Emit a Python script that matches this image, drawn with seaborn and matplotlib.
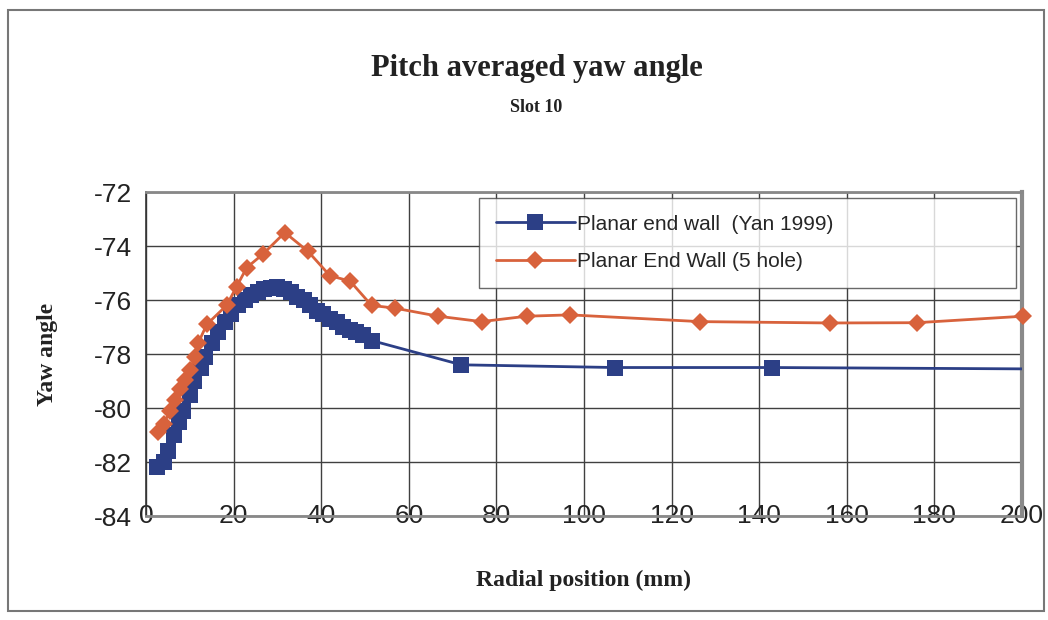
import matplotlib
matplotlib.use("Agg")
import matplotlib.pyplot as plt
import seaborn as sns
import pandas as pd
from matplotlib.patches import Rectangle

# data
yan_x = [2.5, 4, 5, 6.5, 7.5, 8.5, 10, 11, 12.5, 13.5, 15, 16.5, 18, 19.5, 21,
         22.5, 24, 25.5, 27, 28.5, 30, 31.5, 33, 34.5, 36, 37.5, 39, 40.5, 42,
         43.5, 45, 46.5, 48, 49.5, 51.5, 72, 107, 143, 200]
yan_y = [-82.2, -82.0, -81.6, -81.0, -80.5, -80.1, -79.5, -79.0, -78.5, -78.1,
         -77.6, -77.2, -76.8, -76.5, -76.2, -76.0, -75.8, -75.7, -75.6, -75.55,
         -75.5, -75.6, -75.7, -75.9, -76.0, -76.2, -76.4, -76.5, -76.7, -76.8,
         -77.0, -77.1, -77.2, -77.3, -77.5, -78.4, -78.5, -78.5, -78.55]

hole_x = [2.8, 4, 5.5, 6.6, 7.8, 8.9, 10, 11.2, 11.9, 13.9, 18.4, 20.7, 23,
          26.7, 31.7, 37, 42, 46.6, 51.5, 56.8, 66.7, 76.6, 86.9, 96.8, 126.5,
          156.2, 176, 200.3]
hole_y = [-80.9, -80.6, -80.1, -79.7, -79.3, -78.96, -78.6, -78.1, -77.6,
          -76.9, -76.2, -75.5, -74.8, -74.3, -73.5, -74.2, -75.1, -75.3, -76.2,
          -76.3, -76.6, -76.8, -76.6, -76.55, -76.8, -76.85, -76.84, -76.6]

yan_label = "Planar end wall  (Yan 1999)"
hole_label = "Planar End Wall (5 hole)"
xticks = list(range(0, 201, 20))
yticks = list(range(-84, -71, 2))

blue = "#2c3f86"
orange = "#d8623c"

sns.set_style("white")
plt.rcParams['font.family'] = ['Liberation Sans', 'DejaVu Sans']
plt.rcParams['axes.unicode_minus'] = False

fig = plt.figure(figsize=(10.48, 6.2), dpi=100)
ax = fig.add_axes([0.1393, 0.1677, 0.9752 - 0.1393, 0.6903 - 0.1677])

df_yan = pd.DataFrame({"x": yan_x, "y": yan_y})
df_hole = pd.DataFrame({"x": hole_x, "y": hole_y})

sns.lineplot(data=df_yan, x="x", y="y", ax=ax, color=blue, lw=2,
             marker="s", markersize=11, markeredgewidth=0,
             markevery=list(range(len(yan_x) - 1)), label=yan_label, zorder=3)
sns.lineplot(data=df_hole, x="x", y="y", ax=ax, color=orange, lw=2,
             marker="D", markersize=9, markeredgewidth=0,
             label=hole_label, zorder=4, clip_on=False)

ax.set_xlim(0, 200)
ax.set_ylim(-84, -72)
ax.set_xticks(xticks)
ax.set_yticks(yticks)
ax.grid(True, color="#404040", lw=1)
ax.set_axisbelow(True)
for s in ["top", "bottom"]:
    ax.spines[s].set_color("#888888")
    ax.spines[s].set_linewidth(2)
ax.spines["left"].set_color("#333333")
ax.spines["left"].set_linewidth(1.2)
ax.spines["right"].set_color("#8a8a8a")
ax.spines["right"].set_linewidth(3)

ax.tick_params(axis="y", direction="out", length=6, width=1, color="#333333",
               labelsize=19, pad=4, labelcolor="#222222")
ax.tick_params(axis="x", length=0, labelsize=19, pad=0, labelcolor="#222222")
for lab in ax.get_xticklabels():
    lab.set_verticalalignment("center")

ax.set_xlabel("Radial position (mm)", family="Liberation Serif",
              fontweight="bold", fontsize=17, labelpad=30, color="#222222")
ax.set_ylabel("Yaw angle", family="Liberation Serif", fontweight="bold",
              fontsize=17, labelpad=26, color="#222222")

fig.text(0.512, 0.89, "Pitch averaged yaw angle", ha="center", va="center",
         family="Liberation Serif", fontweight="bold", fontsize=22,
         color="#222222")
fig.text(0.512, 0.826, "Slot 10", ha="center", va="center",
         family="Liberation Serif", fontweight="bold", fontsize=13,
         color="#222222")

leg = ax.legend(loc="center left", bbox_to_anchor=(0.380, 0.704, 0.613, 0.277),
                mode="expand", fontsize=15, frameon=True, fancybox=False,
                edgecolor="#444444", borderpad=0.8, labelspacing=0.9,
                handlelength=3.8, handletextpad=0.1, borderaxespad=0)
leg.get_frame().set_linewidth(1)
leg.set_zorder(5)

fig.patches.append(Rectangle((0.008, 0.014), 0.988, 0.97, transform=fig.transFigure,
                             fill=False, edgecolor="#777777", lw=1.5))

fig.savefig("out.png", dpi=100)
